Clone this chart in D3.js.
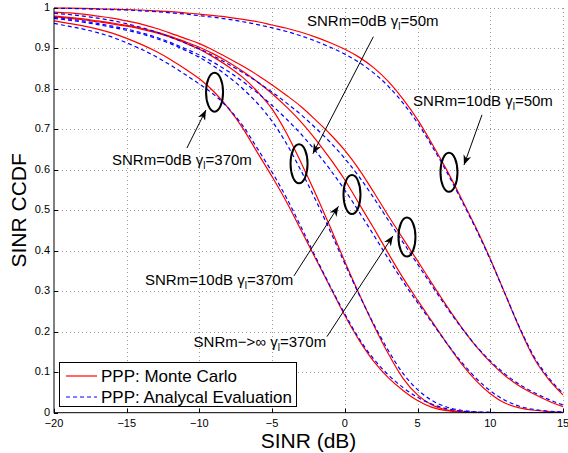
<!DOCTYPE html>
<html><head><meta charset="utf-8">
<script src="https://cdn.jsdelivr.net/npm/d3@7"></script>
<style>html,body{margin:0;padding:0;background:#fff;} svg{display:block;font-family:"Liberation Sans",Arial,Helvetica,sans-serif;}</style>
</head><body><svg id="c" width="568" height="453"></svg>
<script>
// ---------- data ----------
const sinrDb = [-20,-19,-18,-17,-16,-15,-14,-13,-12,-11,-10,-9,-8,-7,-6,-5,-4,-3,-2,-1,0,1,2,3,4,5,6,7,8,9,10,11,12,13,14,15];
const xTicks = [-20,-15,-10,-5,0,5,10,15];
const xTickLabels = ["\u221220","\u221215","\u221210","\u22125","0","5","10","15"];
const yTicks = [0,0.1,0.2,0.3,0.4,0.5,0.6,0.7,0.8,0.9,1];
const yTickLabels = ["0","0.1","0.2","0.3","0.4","0.5","0.6","0.7","0.8","0.9","1"];
const legendLabels = ["PPP: Monte Carlo","PPP: Analycal Evaluation"];

// Monte Carlo (red)
const mc_0dB_370m  = [0.968,0.962,0.956,0.948,0.938,0.925,0.910,0.893,0.873,0.850,0.825,0.793,0.752,0.702,0.642,0.583,0.520,0.450,0.380,0.310,0.240,0.178,0.126,0.086,0.055,0.030,0.013,0.005,0.0015,0,0,0,0,0,0,0];
const mc_0dB_50m   = [0.978,0.975,0.971,0.966,0.961,0.955,0.948,0.939,0.928,0.914,0.898,0.878,0.855,0.828,0.793,0.750,0.690,0.617,0.540,0.458,0.373,0.292,0.215,0.145,0.085,0.044,0.019,0.007,0.003,0.001,0,0,0,0,0,0];
const mc_10dB_370m = [0.980,0.977,0.973,0.968,0.963,0.957,0.950,0.941,0.930,0.917,0.903,0.886,0.866,0.843,0.817,0.788,0.755,0.718,0.675,0.627,0.575,0.515,0.455,0.393,0.333,0.278,0.225,0.172,0.122,0.080,0.047,0.024,0.012,0.006,0.003,0.001];
const mc_inf_370m  = [0.990,0.988,0.985,0.980,0.975,0.968,0.960,0.950,0.938,0.925,0.912,0.895,0.876,0.856,0.834,0.810,0.784,0.756,0.723,0.688,0.648,0.600,0.544,0.486,0.430,0.375,0.319,0.264,0.212,0.165,0.125,0.092,0.066,0.046,0.029,0.015];
const mc_10dB_50m  = [1.000,0.9995,0.999,0.998,0.997,0.996,0.995,0.993,0.991,0.988,0.985,0.981,0.977,0.972,0.966,0.958,0.950,0.940,0.928,0.914,0.898,0.878,0.852,0.818,0.775,0.724,0.664,0.600,0.530,0.458,0.380,0.295,0.210,0.135,0.083,0.044];

// Analytical evaluation (blue dashed)
const an_0dB_370m  = [0.962,0.955,0.948,0.939,0.928,0.914,0.898,0.880,0.859,0.836,0.812,0.786,0.752,0.708,0.652,0.594,0.530,0.458,0.384,0.312,0.244,0.182,0.132,0.093,0.062,0.038,0.021,0.010,0.004,0.0015,0.0005,0,0,0,0,0];
const an_0dB_50m   = [0.974,0.970,0.965,0.959,0.952,0.945,0.936,0.925,0.912,0.896,0.878,0.856,0.830,0.800,0.764,0.720,0.664,0.597,0.525,0.448,0.368,0.290,0.218,0.153,0.097,0.057,0.030,0.014,0.006,0.002,0.001,0,0,0,0,0];
const an_10dB_370m = [0.977,0.973,0.968,0.962,0.955,0.948,0.939,0.928,0.915,0.900,0.884,0.865,0.843,0.818,0.790,0.759,0.725,0.688,0.646,0.600,0.550,0.495,0.438,0.380,0.324,0.272,0.222,0.172,0.126,0.086,0.054,0.031,0.016,0.008,0.004,0.002];
const an_inf_370m  = [0.987,0.984,0.980,0.975,0.969,0.961,0.952,0.941,0.928,0.914,0.899,0.881,0.861,0.840,0.817,0.792,0.765,0.736,0.703,0.668,0.628,0.582,0.530,0.475,0.421,0.367,0.313,0.260,0.211,0.166,0.128,0.096,0.070,0.050,0.033,0.019];
const an_10dB_50m  = [0.9995,0.999,0.998,0.997,0.996,0.995,0.993,0.991,0.988,0.985,0.981,0.977,0.972,0.966,0.959,0.951,0.942,0.931,0.918,0.903,0.886,0.865,0.839,0.806,0.765,0.716,0.658,0.595,0.526,0.455,0.378,0.295,0.212,0.139,0.087,0.048];

// annotations (data coordinates)
const annoTexts = [
  {pre:"SNRm=0dB \u03b3", sub:"l", post:"=50m",  x:-2.60,  y:0.956},
  {pre:"SNRm=10dB \u03b3", sub:"l", post:"=50m", x:4.69,   y:0.758},
  {pre:"SNRm=0dB \u03b3", sub:"l", post:"=370m", x:-16.01, y:0.612},
  {pre:"SNRm=10dB \u03b3", sub:"l", post:"=370m",x:-13.74, y:0.316},
  {pre:"SNRm\u2212>\u221e \u03b3", sub:"l", post:"=370m", x:-10.40, y:0.162}
];
const annoArrows = [
  {x1:1.96,  y1:0.929, x2:-2.20, y2:0.640},
  {x1:9.43,  y1:0.736, x2:8.19,  y2:0.612},
  {x1:-10.86,y1:0.654, x2:-9.55, y2:0.748},
  {x1:-3.50, y1:0.338, x2:-0.44, y2:0.510},
  {x1:-1.23, y1:0.188, x2:3.31,  y2:0.437}
];
const annoEllipses = [
  {x:-8.96, y:0.792},
  {x:-3.15, y:0.615},
  {x:0.49,  y:0.539},
  {x:4.27,  y:0.434},
  {x:7.16,  y:0.594}
];

// ---------- drawing ----------
const svg = d3.select("#c");
const L = 54, R = 563, T = 8, B = 412.7;
const x = d3.scaleLinear().domain([-20,15]).range([L,R]);
const y = d3.scaleLinear().domain([0,1]).range([B,T]);

// grid
const grid = svg.append("g").attr("stroke","#9a9a9a").attr("stroke-width",1).attr("stroke-dasharray","1,3");
grid.selectAll("line.v").data(xTicks.slice(1)).enter().append("line")
  .attr("x1",d=>Math.round(x(d))+0.5).attr("x2",d=>Math.round(x(d))+0.5).attr("y1",T).attr("y2",B);
grid.selectAll("line.h").data(yTicks.slice(1)).enter().append("line")
  .attr("x1",L).attr("x2",R).attr("y1",d=>Math.round(y(d))+0.5).attr("y2",d=>Math.round(y(d))+0.5);

// curves
const line = d3.line().x((d,i)=>x(sinrDb[i])).y(d=>y(d)).curve(d3.curveMonotoneX);
const mcSeries = [mc_0dB_370m, mc_0dB_50m, mc_10dB_370m, mc_inf_370m, mc_10dB_50m];
const anSeries = [an_0dB_370m, an_0dB_50m, an_10dB_370m, an_inf_370m, an_10dB_50m];
svg.append("clipPath").attr("id","pc").append("rect").attr("x",L).attr("y",T-2).attr("width",R-L+1).attr("height",B-T+2);
const cg = svg.append("g").attr("clip-path","url(#pc)");
cg.selectAll("path.mc").data(mcSeries).enter().append("path")
  .attr("d",line).attr("fill","none").attr("stroke","#ff0000").attr("stroke-width",1.2);
cg.selectAll("path.an").data(anSeries).enter().append("path")
  .attr("d",line).attr("fill","none").attr("stroke","#0000ff").attr("stroke-width",1.2).attr("stroke-dasharray","4,3");

// axes
const ax = svg.append("g").attr("stroke","#000").attr("stroke-width",1);
ax.append("line").attr("x1",L).attr("x2",L).attr("y1",T).attr("y2",B+0.5);
ax.append("line").attr("x1",L).attr("x2",R).attr("y1",B).attr("y2",B);
ax.selectAll("line.xt").data(xTicks).enter().append("line")
  .attr("x1",d=>Math.round(x(d))+0.5).attr("x2",d=>Math.round(x(d))+0.5).attr("y1",B).attr("y2",B-4);
ax.selectAll("line.yt").data(yTicks).enter().append("line")
  .attr("x1",L).attr("x2",L+4).attr("y1",d=>Math.round(y(d))+0.5).attr("y2",d=>Math.round(y(d))+0.5);

svg.append("g").selectAll("text").data(xTicks).enter().append("text")
  .attr("x",d=>x(d)).attr("y",426.5).attr("text-anchor","middle").attr("font-size",11)
  .text((d,i)=>xTickLabels[i]);
svg.append("g").selectAll("text").data(yTicks).enter().append("text")
  .attr("x",L-4).attr("y",d=>y(d)+3).attr("text-anchor","end").attr("font-size",11)
  .text((d,i)=>yTickLabels[i]);

svg.append("text").attr("x",(L+R)/2).attr("y",447.5).attr("text-anchor","middle").attr("font-size",21).text("SINR (dB)");
svg.append("text").attr("transform",`translate(26,${(T+B)/2}) rotate(-90)`).attr("text-anchor","middle").attr("font-size",21).text("SINR CCDF");

// annotations
const defs = svg.append("defs");
defs.append("marker").attr("id","ah").attr("viewBox","-10 -5 10 10").attr("refX",0).attr("refY",0)
  .attr("markerWidth",10).attr("markerHeight",10).attr("markerUnits","userSpaceOnUse").attr("orient","auto")
  .append("path").attr("d","M0,0 L-10,-4 L-7,0 L-10,4 Z").attr("fill","#000");
svg.append("g").selectAll("line").data(annoArrows).enter().append("line")
  .attr("x1",d=>x(d.x1)).attr("y1",d=>y(d.y1)).attr("x2",d=>x(d.x2)).attr("y2",d=>y(d.y2))
  .attr("stroke","#000").attr("stroke-width",1).attr("marker-end","url(#ah)");
svg.append("g").selectAll("ellipse").data(annoEllipses).enter().append("ellipse")
  .attr("cx",d=>x(d.x)).attr("cy",d=>y(d.y)).attr("rx",8.5).attr("ry",19.5)
  .attr("fill","none").attr("stroke","#000").attr("stroke-width",2);
const at = svg.append("g").selectAll("text").data(annoTexts).enter().append("text")
  .attr("x",d=>x(d.x)).attr("y",d=>y(d.y)).attr("font-size",15);
at.append("tspan").text(d=>d.pre);
at.append("tspan").attr("font-size",10).attr("dy",4).text(d=>d.sub);
at.append("tspan").attr("dy",-4).text(d=>d.post);

// legend
const lg = svg.append("g");
lg.append("rect").attr("x",59.5).attr("y",362.5).attr("width",237).attr("height",44).attr("fill","#fff").attr("stroke","#000").attr("stroke-width",1);
const lgStyles = [{c:"#ff0000",dash:null},{c:"#0000ff",dash:"4,3"}];
legendLabels.forEach((t,i)=>{
  const yy = 376 + i*21;
  lg.append("line").attr("x1",66).attr("x2",97).attr("y1",yy).attr("y2",yy)
    .attr("stroke",lgStyles[i].c).attr("stroke-width",1.2).attr("stroke-dasharray",lgStyles[i].dash);
  lg.append("text").attr("x",101).attr("y",yy+6).attr("font-size",17).text(t);
});
</script></body></html>
